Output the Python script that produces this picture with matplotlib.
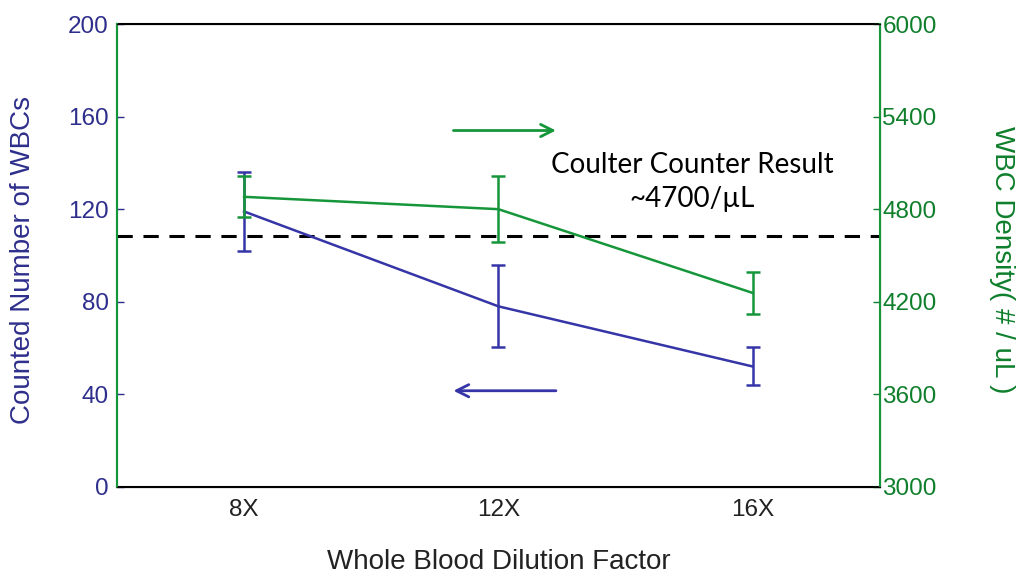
import numpy as np
import matplotlib
matplotlib.use("Agg")
import matplotlib.pyplot as plt

#%% data
dilution = [8, 12, 16]
dilution_labels = ["8X", "12X", "16X"]

wbc_count = [119, 78, 52]
wbc_count_err = [17, 17.7, 8.2]

wbc_density = [4880, 4800, 4257]
wbc_density_err = [133, 214, 137]

coulter_level = 108.4  # on the count axis

#%% style
BLUE = "#3535a8"
BLUE_TXT = "#2e2e8c"
GREEN = "#16963a"
GREEN_TXT = "#0f7f2c"

plt.rcParams["font.family"] = ["Liberation Sans", "DejaVu Sans"]
plt.rcParams["font.size"] = 17.5

fig = plt.figure(figsize=(10.17, 5.74), dpi=100)
ax = fig.add_axes([0.115, 0.152, 0.75, 0.806])
ax2 = ax.twinx()

ax.errorbar(dilution, wbc_count, yerr=wbc_count_err, color=BLUE, lw=1.8,
            capsize=5, capthick=1.8, elinewidth=1.8)
ax2.errorbar(dilution, wbc_density, yerr=wbc_density_err, color=GREEN, lw=1.8,
             capsize=5, capthick=1.8, elinewidth=1.8)

ax.axhline(coulter_level, color="black", lw=2.2, ls=(0, (5, 3.5)))

ax.set_xlim(6, 18)
ax.set_ylim(0, 200)
ax.set_yticks(np.arange(0, 201, 40))
ax2.set_ylim(3000, 6000)
ax2.set_yticks(np.arange(3000, 6001, 600))

ax.set_xticks(dilution)
ax.set_xticklabels(dilution_labels)
ax.tick_params(axis="x", length=0, pad=9, colors="#222222")
ax.tick_params(axis="y", direction="in", length=5, width=1, colors=BLUE_TXT, pad=6)
ax2.tick_params(axis="y", direction="in", length=5, width=1, colors=GREEN_TXT, pad=2)

for sp in ("top", "bottom"):
    ax.spines[sp].set_color("black")
    ax.spines[sp].set_linewidth(1.5)
for sp in ("left", "right"):
    ax2.spines[sp].set_color(GREEN)
    ax2.spines[sp].set_linewidth(1.5)
ax.spines["left"].set_color(GREEN)
ax.spines["left"].set_linewidth(1.5)

ax.set_ylabel("Counted Number of WBCs", color=BLUE_TXT, fontsize=20, va="center")
ax.yaxis.set_label_coords(-0.123, 0.49)
ax2.set_ylabel("WBC Density( # / uL )", color=GREEN_TXT, rotation=270,
               fontsize=20, va="center")
ax2.yaxis.set_label_coords(1.16, 0.49)
ax.set_xlabel("Whole Blood Dilution Factor", color="#222222", fontsize=20, va="center")
ax.xaxis.set_label_coords(0.5, -0.162)

# arrows pointing to the axis each line uses
ax.annotate("", xy=(12.95, 154), xytext=(11.25, 154),
            arrowprops=dict(arrowstyle="->", color=GREEN, lw=2, mutation_scale=22))
ax.annotate("", xy=(11.25, 41.5), xytext=(12.95, 41.5),
            arrowprops=dict(arrowstyle="->", color=BLUE, lw=2, mutation_scale=22))

ax.text(15.05, 139, "Coulter Counter Result", ha="center", va="center",
        fontsize=20, family=["Lato", "DejaVu Sans"], color="black")
ax.text(15.05, 124.5, "~4700/\u00b5L", ha="center", va="center",
        fontsize=20, family=["Lato", "DejaVu Sans"], color="black")

fig.savefig("out.png", dpi=100)
